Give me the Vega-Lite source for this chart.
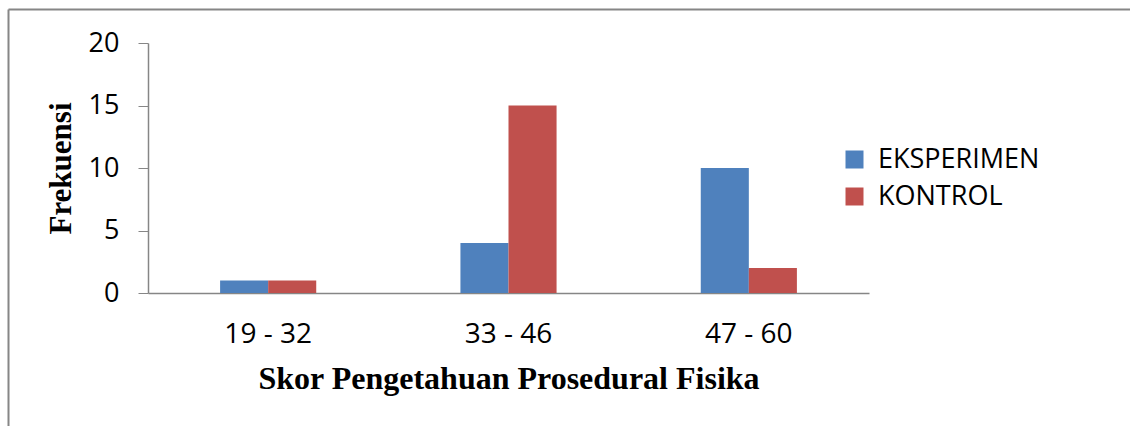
{
  "$schema": "https://vega.github.io/schema/vega-lite/v6.json",
  "width": 1122,
  "height": 417,
  "autosize": {"type": "none"},
  "padding": {"left": 8, "top": 9, "right": 0, "bottom": 0},
  "background": "white",
  "config": {
    "view": {"stroke": null},
    "font": "Open Sans"
  },
  "data": {
    "values": [
      {"skor": "19 - 32", "kelompok": "EKSPERIMEN", "frekuensi": 1},
      {"skor": "19 - 32", "kelompok": "KONTROL", "frekuensi": 1},
      {"skor": "33 - 46", "kelompok": "EKSPERIMEN", "frekuensi": 4},
      {"skor": "33 - 46", "kelompok": "KONTROL", "frekuensi": 15},
      {"skor": "47 - 60", "kelompok": "EKSPERIMEN", "frekuensi": 10},
      {"skor": "47 - 60", "kelompok": "KONTROL", "frekuensi": 2}
    ]
  },
  "layer": [
    {
      "mark": {"type": "bar"},
      "encoding": {
        "x": {
          "field": "skor",
          "type": "nominal",
          "sort": ["19 - 32", "33 - 46", "47 - 60"],
          "scale": {"range": [140, 861], "paddingInner": 0.6, "paddingOuter": 0.3},
          "axis": {
            "orient": "bottom",
            "offset": -133,
            "ticks": false,
            "labelAngle": 0,
            "labelFont": "Open Sans",
            "labelFontSize": 28,
            "labelColor": "#000000",
            "labelPadding": 27,
            "domainColor": "#868686",
            "domainWidth": 1.5,
            "title": "Skor Pengetahuan Prosedural Fisika",
            "titleFont": "Liberation Serif",
            "titleFontWeight": "bold",
            "titleFontSize": 32,
            "titleColor": "#000000",
            "titlePadding": 15
          }
        },
        "xOffset": {"field": "kelompok", "type": "nominal", "sort": ["EKSPERIMEN", "KONTROL"]},
        "y": {
          "field": "frekuensi",
          "type": "quantitative",
          "scale": {"domain": [0, 20], "range": [284, 34], "nice": false},
          "axis": {
            "orient": "left",
            "offset": -140,
            "values": [0, 5, 10, 15, 20],
            "grid": false,
            "tickSize": 10,
            "tickColor": "#868686",
            "domainColor": "#868686",
            "domainWidth": 1.5,
            "labelFont": "Open Sans",
            "labelFontSize": 27,
            "labelColor": "#000000",
            "labelPadding": 19,
            "title": "Frekuensi",
            "titleFont": "Liberation Serif",
            "titleFontWeight": "bold",
            "titleFontSize": 31,
            "titleColor": "#000000",
            "titlePadding": 11
          }
        },
        "color": {
          "field": "kelompok",
          "type": "nominal",
          "sort": ["EKSPERIMEN", "KONTROL"],
          "scale": {"domain": ["EKSPERIMEN", "KONTROL"], "range": ["#4F81BD", "#C0504D"]},
          "legend": {
            "orient": "none",
            "legendX": 833,
            "legendY": 137,
            "title": null,
            "symbolType": "square",
            "symbolSize": 324,
            "symbolStrokeWidth": 0,
            "labelFont": "Open Sans",
            "labelFontSize": 27,
            "labelLimit": 400,
            "labelColor": "#000000",
            "rowPadding": 9,
            "labelOffset": 10
          }
        }
      }
    },
    {
      "mark": {"type": "point", "opacity": 0},
      "encoding": {
        "x": {
          "field": "frekuensi",
          "type": "quantitative",
          "scale": {"domain": [0, 20]},
          "axis": {"orient": "top", "offset": 0, "labels": false, "ticks": false, "grid": false, "title": null, "domainColor": "#868686", "domainWidth": 2}
        },
        "y": {
          "field": "frekuensi",
          "type": "quantitative",
          "scale": {"domain": [0, 20]},
          "axis": {"orient": "left", "offset": 0, "labels": false, "ticks": false, "grid": false, "title": null, "domainColor": "#868686", "domainWidth": 2}
        }
      }
    }
  ],
  "resolve": {
    "scale": {"x": "independent", "y": "independent"},
    "axis": {"x": "independent", "y": "independent"}
  }
}
